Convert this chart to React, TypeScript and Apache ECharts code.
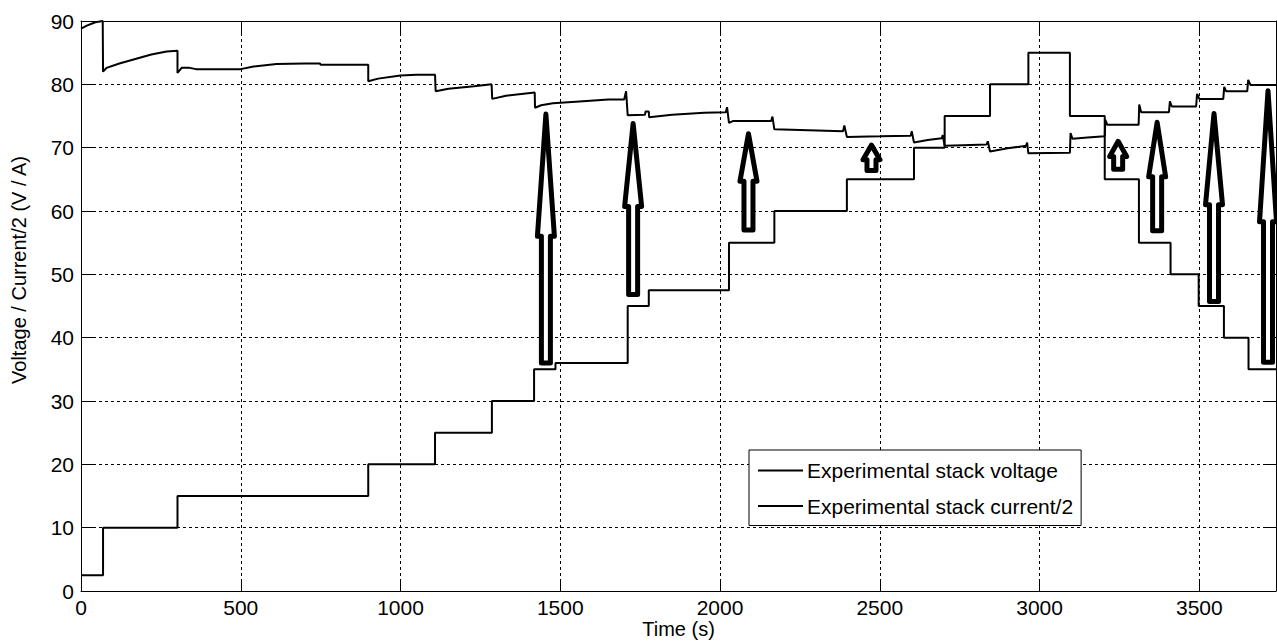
import React, { useEffect, useRef } from "react";
import * as echarts from "echarts";

// ---- Data ----
// Current/2: level start times (s) and levels; last time closes the final level
const currentTimes = [0, 69, 302, 899, 1108, 1286, 1418, 1485, 1711, 1777, 2028, 2170, 2397, 2607, 2703, 2845, 2965, 3095, 3204, 3311, 3410, 3498, 3577, 3654, 3740];
const currentLevels = [2.5, 10, 15, 20, 25, 30, 35, 36, 45, 47.5, 55, 60, 65, 70, 75, 80, 85, 75, 65, 55, 50, 45, 40, 35, 35];

// Stack voltage: time (s) and value (V)
const voltageTimes = [
  0, 20, 45, 68, 69, 80, 120, 170, 220, 268, 302, 302, 315, 340, 360, 500, 540, 612, 700, 748, 750, 899, 899, 930, 1000, 1050, 1108,
  1110, 1150, 1230, 1285, 1287, 1330, 1420, 1421, 1440, 1477, 1560, 1650, 1700, 1706, 1711, 1765, 1767, 1777, 1778, 1850, 1950, 2018, 2022,
  2028, 2040, 2160, 2164, 2170, 2250, 2385, 2389, 2397, 2500, 2597, 2600, 2607, 2650, 2694, 2697, 2703, 2760, 2834, 2838, 2845, 2900, 2958,
  2961, 2965, 3095, 3097, 3103, 3150, 3204, 3206, 3212, 3310, 3312, 3318, 3405, 3408, 3414, 3490, 3493, 3500, 3575, 3578, 3584, 3650, 3653,
  3660, 3740,
];
const voltageValues = [
  88.8, 89.3, 89.8, 90.0, 82.0, 82.6, 83.3, 84.0, 84.7, 85.2, 85.3, 81.8, 82.6, 82.6, 82.4, 82.4, 82.8, 83.2, 83.3, 83.3, 83.1, 83.1, 80.5, 80.9, 81.4, 81.5, 81.5,
  78.9, 79.3, 79.7, 80.0, 77.7, 78.2, 78.7, 76.3, 76.7, 77.0, 77.3, 77.6, 77.6, 78.9, 75.1, 75.2, 75.7, 75.7, 74.8, 75.2, 75.5, 75.6, 76.4,
  73.9, 74.2, 74.2, 74.9, 72.9, 72.8, 72.6, 73.5, 71.7, 71.8, 71.9, 72.6, 70.8, 71.2, 71.5, 72.0, 70.3, 70.4, 70.5, 71.0, 69.4, 69.9, 70.3,
  70.8, 69.1, 69.2, 72.3, 71.4, 71.6, 71.8, 74.4, 73.6, 73.6, 76.8, 75.6, 75.6, 77.3, 76.5, 76.5, 78.5, 77.7, 77.7, 79.6, 78.9, 78.9, 80.7,
  79.9, 79.9,
];

// Annotation arrows: time, bottom, head base, tip (data units)
const arrowTimes = [1455, 1728, 2089, 2474, 3246, 3368, 3546, 3715];
const arrowBottoms = [36.0, 46.8, 57.0, 66.4, 66.6, 56.9, 45.7, 36.1];
const arrowHeadBases = [56.0, 60.7, 64.7, 68.1, 68.6, 65.4, 61.0, 58.3];
const arrowTips = [75.3, 73.8, 72.2, 70.4, 71.0, 74.0, 75.4, 79.0];

const xTickStep = 500;
const yTickStep = 10;
const legendNames = ["Experimental stack voltage", "Experimental stack current/2"];
const xAxisTitle = "Time (s)";
const yAxisTitle = "Voltage / Current/2 (V / A)";

const FONT = "'Liberation Sans', Arial, Helvetica, sans-serif";
const FS = 21;

export default function App() {
  const ref = useRef<HTMLDivElement>(null);

  useEffect(() => {
    if (!ref.current) return;
    const chart = echarts.init(ref.current, undefined, { renderer: "svg" });

    const currentData = currentTimes.map((t, i) => [t, currentLevels[i]]);
    const voltageData = voltageTimes.map((t, i) => [t, voltageValues[i]]);
    const arrowData = arrowTimes.map((t, i) => [t, arrowBottoms[i], arrowHeadBases[i], arrowTips[i]]);

    const gridLine = { show: true, lineStyle: { color: "#000", width: 1, type: [3, 3] as any } };
    const xMax = currentTimes[currentTimes.length - 1];

    const option: any = {
      animation: false,
      backgroundColor: "#fff",
      textStyle: { fontFamily: FONT },
      grid: { left: 81, right: 1, top: 21, bottom: 51, containLabel: false, outerBoundsMode: "none" },
      xAxis: [
        {
          type: "value",
          min: 0,
          max: xMax,
          interval: xTickStep,
          position: "bottom",
          axisLine: { show: true, onZero: false, lineStyle: { color: "#000", width: 1 } },
          axisTick: { show: true, inside: true, length: 12, lineStyle: { color: "#000" } },
          axisLabel: {
            color: "#000",
            fontSize: FS,
            fontFamily: FONT,
            margin: 6,
            formatter: (v: number) => (v % xTickStep === 0 ? String(v) : ""),
          },
          splitLine: gridLine,
          name: xAxisTitle,
          nameLocation: "middle",
          nameGap: 28,
          nameMoveOverlap: false,
          nameTextStyle: { color: "#000", fontSize: 20, fontFamily: FONT },
        },
        {
          type: "value",
          min: 0,
          max: xMax,
          interval: xTickStep,
          position: "top",
          axisLine: { show: true, onZero: false, lineStyle: { color: "#000", width: 1 } },
          axisTick: { show: true, inside: true, length: 12, lineStyle: { color: "#000" } },
          axisLabel: { show: false },
          splitLine: { show: false },
        },
      ],
      yAxis: [
        {
          type: "value",
          min: 0,
          max: 90,
          interval: yTickStep,
          position: "left",
          axisLine: { show: true, onZero: false, lineStyle: { color: "#000", width: 1 } },
          axisTick: { show: true, inside: true, length: 12, lineStyle: { color: "#000" } },
          axisLabel: { color: "#000", fontSize: FS, fontFamily: FONT, margin: 7 },
          splitLine: gridLine,
        },
        {
          type: "value",
          min: 0,
          max: 90,
          interval: yTickStep,
          position: "right",
          axisLine: { show: true, onZero: false, lineStyle: { color: "#000", width: 1 } },
          axisTick: { show: true, inside: true, length: 12, lineStyle: { color: "#000" } },
          axisLabel: { show: false },
          splitLine: { show: false },
        },
      ],
      legend: {
        data: legendNames,
        orient: "vertical",
        left: 749,
        top: 450,
        padding: [10, 8, 9, 9],
        itemGap: 14.5,
        itemWidth: 45,
        itemHeight: 2,
        icon: "rect",
        backgroundColor: "#fff",
        borderColor: "#000",
        borderWidth: 1,
        borderRadius: 0,
        textStyle: { color: "#000", fontSize: FS, fontFamily: FONT, padding: [0, 0, 0, -1] },
        itemStyle: { color: "#000" },
      },
      graphic: [
        {
          type: "text",
          x: 19,
          y: 270,
          rotation: Math.PI / 2,
          style: {
            text: yAxisTitle,
            fill: "#000",
            fontSize: 20,
            fontFamily: FONT,
            textAlign: "center",
            textVerticalAlign: "middle",
          },
        },
      ],
      series: [
        {
          name: legendNames[0],
          type: "line",
          data: voltageData,
          showSymbol: false,
          symbol: "none",
          color: "#000",
          lineStyle: { color: "#000", width: 2 },
          z: 3,
        },
        {
          name: legendNames[1],
          type: "line",
          step: "end",
          data: currentData,
          showSymbol: false,
          symbol: "none",
          color: "#000",
          lineStyle: { color: "#000", width: 2 },
          z: 3,
        },
        {
          name: "arrows",
          type: "custom",
          clip: false,
          z: 5,
          data: arrowData,
          renderItem: (params: any, api: any) => {
            const t = api.value(0);
            const [cx, yb] = api.coord([t, api.value(1)]);
            const yh = api.coord([t, api.value(2)])[1];
            const yt = api.coord([t, api.value(3)])[1];
            const sw = 4.5;
            const hw = 8.5;
            return {
              type: "polygon",
              shape: {
                points: [
                  [cx - sw, yb],
                  [cx - sw, yh],
                  [cx - hw, yh],
                  [cx, yt],
                  [cx + hw, yh],
                  [cx + sw, yh],
                  [cx + sw, yb],
                ],
              },
              style: { fill: "#fff", stroke: "#000", lineWidth: 5, lineJoin: "round" },
            };
          },
        },
      ],
    };

    chart.setOption(option);
    return () => chart.dispose();
  }, []);

  return (
    <div
      ref={ref}
      style={{ position: "fixed", left: 0, top: 0, width: 1277, height: 642, background: "#fff" }}
    />
  );
}
